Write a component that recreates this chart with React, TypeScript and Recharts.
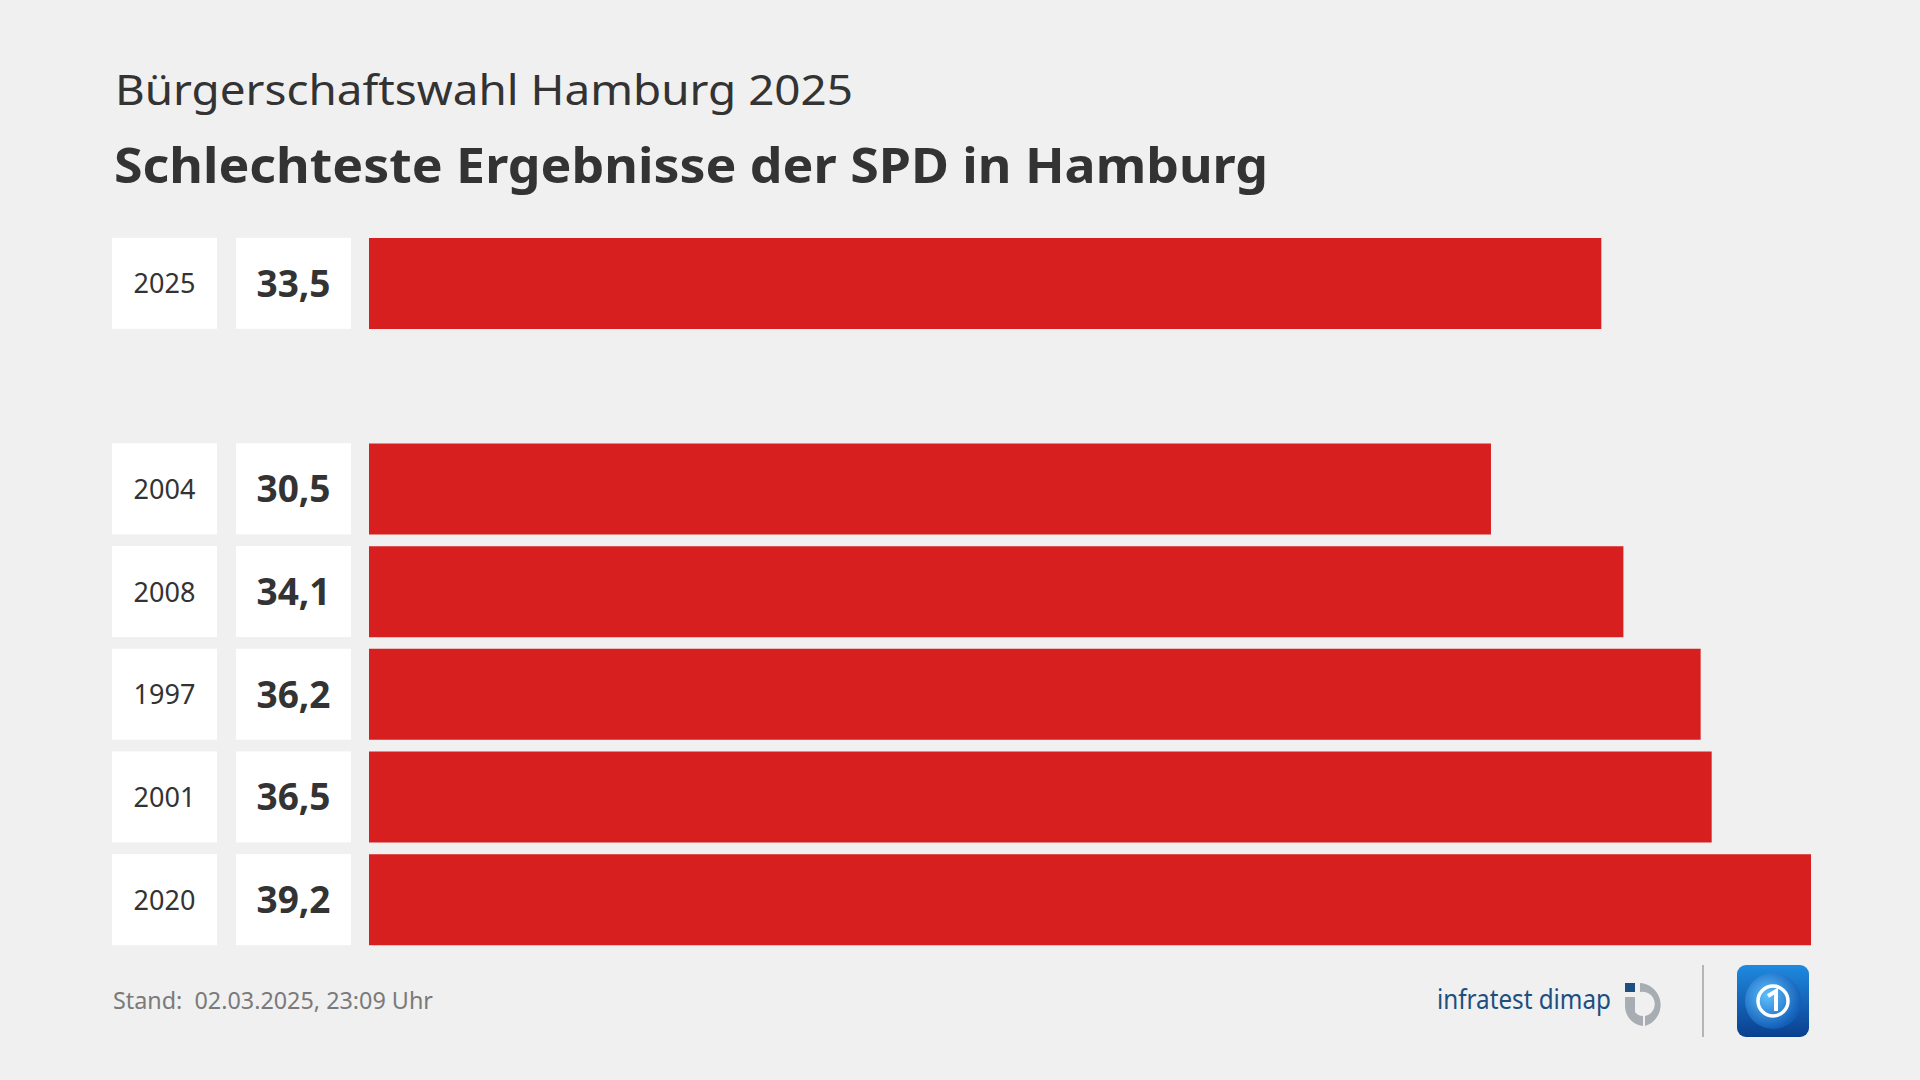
import { Bar, BarChart, Cell, XAxis, YAxis } from "recharts";

// rows top to bottom; "gap" is the empty slot between 2025 and the history
const years = ["2025", "gap", "2004", "2008", "1997", "2001", "2020"];
const shares = [33.5, null, 30.5, 34.1, 36.2, 36.5, 39.2];
const xMax = 39.2;

const RED = "#d71f1f";
const INK = "#333333";
const FONT = "'Noto Sans', 'Open Sans', sans-serif";

const rows = years.map((year, i) => ({ year, share: shares[i] }));

const fmt = (v: number) => v.toFixed(1).replace(".", ",");

function RowLabel(props: any) {
  const { y, payload } = props;
  const year = payload.value as string;
  if (year === "gap") return null;
  const share = shares[years.indexOf(year)] as number;
  const h = 91;
  return (
    <g>
      <rect x={112} y={y - h / 2} width={105} height={h} fill="#ffffff" />
      <rect x={236} y={y - h / 2} width={115} height={h} fill="#ffffff" />
      <text x={164.5} y={y + 10} textAnchor="middle" fontSize={27} fill={INK} fontFamily={FONT}>
        {year}
      </text>
      <text x={293.5} y={y + 13.5} textAnchor="middle" fontSize={37} fontWeight={700} fill={INK} fontFamily={FONT}>
        {fmt(share)}
      </text>
    </g>
  );
}

function Logos() {
  return (
    <svg width={1920} height={1080} style={{ position: "absolute", left: 0, top: 0, pointerEvents: "none" }}>
      <defs>
        <linearGradient id="ard" x1="0" y1="0" x2="0" y2="1">
          <stop offset="0%" stopColor="#1f8ae0" />
          <stop offset="100%" stopColor="#0a3f8f" />
        </linearGradient>
        <radialGradient id="globe" cx="0.4" cy="0.4" r="0.6">
          <stop offset="0%" stopColor="#5fc0ff" />
          <stop offset="100%" stopColor="#135fb8" />
        </radialGradient>
      </defs>
      <text x={115} y={105} fontSize={42} fill={INK} fontFamily={FONT} textLength={738} lengthAdjust="spacingAndGlyphs">
        Bürgerschaftswahl Hamburg 2025
      </text>
      <text x={114} y={183} fontSize={48} fontWeight={700} fill={INK} fontFamily={FONT} textLength={1154} lengthAdjust="spacingAndGlyphs">
        Schlechteste Ergebnisse der SPD in Hamburg
      </text>
      <text x={113} y={1009} fontSize={24} fill="#7a7a7a" fontFamily={FONT} textLength={320} lengthAdjust="spacingAndGlyphs" xmlSpace="preserve">
        Stand:  02.03.2025, 23:09 Uhr
      </text>
      <text x={1437} y={1009} fontSize={27} fill="#1d4f80" fontFamily={FONT} textLength={174} lengthAdjust="spacingAndGlyphs">
        infratest dimap
      </text>
      {/* infratest dimap mark */}
      <rect x={1625} y={983} width={10} height={9} fill="#1d4f80" />
      <path d="M1625 997 L1635 997 L1635 1012 A10 10 0 0 0 1643 1016 L1643 1026 A20 20 0 0 1 1625 1006 Z" fill="#a7adb3" />
      <path d="M1640 983 A22 22 0 0 1 1645 1026 L1645 1016 A12 12 0 0 0 1640 992 Z" fill="#a7adb3" />
      <line x1={1703} y1={965} x2={1703} y2={1037} stroke="#b5b5b5" strokeWidth={2} />
      <rect x={1737} y={965} width={72} height={72} rx={9} fill="url(#ard)" />
      <circle cx={1773} cy={1001} r={28} fill="url(#globe)" />
      <circle cx={1773} cy={1001} r={15} fill="none" stroke="#ffffff" strokeWidth={3.5} />
      <path d="M1768 996 L1776 991 L1776 1011" fill="none" stroke="#ffffff" strokeWidth={4} />
    </svg>
  );
}

export default function App() {
  return (
    <div style={{ position: "absolute", left: 0, top: 0, width: 1920, height: 1080, background: "#f0f0f0", overflow: "hidden" }}>
      <BarChart
        width={1920}
        height={1080}
        data={rows}
        layout="vertical"
        margin={{ top: 232, right: 109, left: 0, bottom: 129 }}
        barCategoryGap={6}
      >
        <XAxis type="number" domain={[0, xMax]} hide />
        <YAxis
          type="category"
          dataKey="year"
          width={369}
          axisLine={false}
          tickLine={false}
          interval={0}
          tick={<RowLabel />}
        />
        <Bar dataKey="share" fill={RED} barSize={91} isAnimationActive={false}>
          {rows.map((_, i) => (
            <Cell key={i} fill={RED} />
          ))}
        </Bar>
      </BarChart>
      <Logos />
    </div>
  );
}
